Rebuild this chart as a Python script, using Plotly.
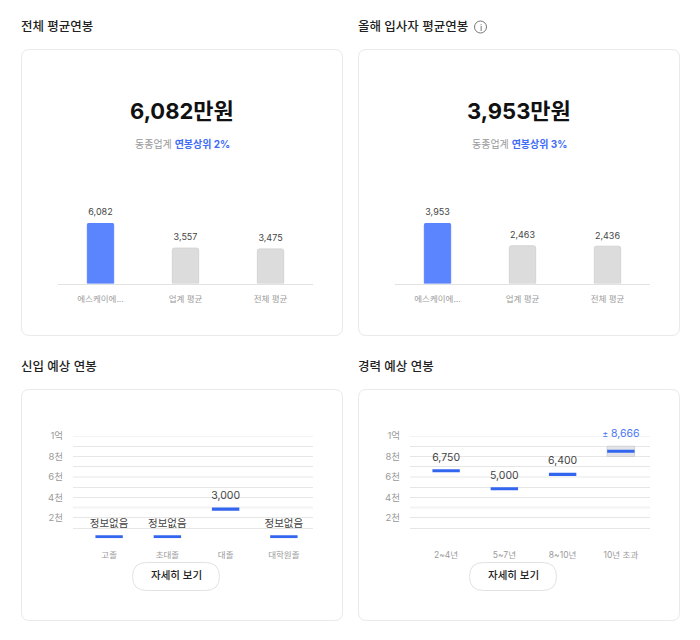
import plotly.graph_objects as go

FONT = "Inter, 'Noto Sans CJK KR', sans-serif"
W, H = 700, 640
BLUE, BAR_BLUE, GREY_TXT = "#4a76f5", "#5b84ff", "#9a9a9a"

# ---- data ----
avg_categories = ["에스케이에...", "업계 평균", "전체 평균"]
avg_total = [6082, 3557, 3475]
avg_new = [3953, 2463, 2436]
new_categories = ["고졸", "초대졸", "대졸", "대학원졸"]
new_tops = [300, 300, 3000, 300]
new_labels = ["정보없음", "정보없음", "3,000", "정보없음"]
exp_categories = ["2~4년", "5~7년", "8~10년", "10년 초과"]
exp_tops = [6750, 5000, 6400, 8666]
exp_labels = ["6,750", "5,000", "6,400", "<span style='font-size:9px'>±</span> 8,666"]
exp_band_low = [None, None, None, 8000]
exp_band_high = [None, None, None, 9000]
y_tick_vals = [2000, 4000, 6000, 8000, 10000]
y_tick_text = ["2천", "4천", "6천", "8천", "1억"]
thin_grid = [0, 1000, 2000, 4000, 5000, 7000, 8000, 9000]
soft_grid = [3000, 6000, 10000]
BAND = 300


def px(x):
    return x / W


def py(y):
    return 1 - y / H


fig = go.Figure()
shapes, annos = [], []


def rounded(x0, y0, x1, y1, r, color="#e9e9e9"):
    p = (f"M {px(x0+r)} {py(y0)} L {px(x1-r)} {py(y0)} Q {px(x1)} {py(y0)} {px(x1)} {py(y0+r)} "
         f"L {px(x1)} {py(y1-r)} Q {px(x1)} {py(y1)} {px(x1-r)} {py(y1)} L {px(x0+r)} {py(y1)} "
         f"Q {px(x0)} {py(y1)} {px(x0)} {py(y1-r)} L {px(x0)} {py(y0+r)} Q {px(x0)} {py(y0)} {px(x0+r)} {py(y0)} Z")
    shapes.append(dict(type="path", xref="paper", yref="paper", path=p,
                       line=dict(color=color, width=1), layer="below"))


def label(x, y, text, size, color, anchor="center", weight=None):
    annos.append(dict(xref="paper", yref="paper", x=px(x), y=py(y), text=text, showarrow=False,
                      xanchor=anchor, yanchor="middle", borderpad=0,
                      font=dict(size=size, color=color, family=FONT, weight=weight)))


def top_panel(idx, dx, cats, vals):
    xa, ya = f"x{idx}", f"y{idx}"
    fig.add_trace(go.Bar(x=cats, y=vals, xaxis=xa, yaxis=ya, width=0.31,
                         marker=dict(color=[BAR_BLUE, "#dcdcdc", "#dcdcdc"], cornerradius=2,
                                     line=dict(color=[BAR_BLUE, "#d4d4d4", "#d4d4d4"], width=1)),
                         showlegend=False, hoverinfo="skip"))
    fig.add_trace(go.Scatter(x=cats, y=vals, xaxis=xa, yaxis=ya, mode="markers+text",
                             text=[f"{v:,}" for v in vals], textposition="top center",
                             marker=dict(size=7, opacity=0),
                             textfont=dict(size=9, color="#444444", family=FONT),
                             cliponaxis=False, showlegend=False, hoverinfo="skip"))
    fig.update_layout({
        f"xaxis{idx}": dict(domain=[px(58 + dx), px(313 + dx)], anchor=ya, type="category", fixedrange=True,
                            range=[-0.5, 2.5], showgrid=False, zeroline=False, showline=True, linecolor="#e2e2e2",
                            linewidth=1, ticks="", ticklabelstandoff=7,
                            tickfont=dict(size=8.5, color=GREY_TXT, family=FONT)),
        f"yaxis{idx}": dict(domain=[py(283.5), py(223)], anchor=xa, range=[0, vals[0]], visible=False,
                            fixedrange=True),
    })


def bottom_panel(idx, dx, cats, tops, labels, colors, mark_sizes):
    xa, ya = f"x{idx}", f"y{idx}"
    fig.add_trace(go.Bar(x=cats, y=[BAND] * 4, base=[t - BAND for t in tops], xaxis=xa, yaxis=ya, width=0.47,
                         marker=dict(color="#3366ee", cornerradius=0, line=dict(width=0)),
                         showlegend=False, hoverinfo="skip"))
    fig.add_trace(go.Scatter(x=cats, y=tops, xaxis=xa, yaxis=ya, mode="markers+text", text=labels,
                             textposition="top center", marker=dict(size=mark_sizes, opacity=0),
                             textfont=dict(size=10.5, color=colors, family=FONT),
                             cliponaxis=False, showlegend=False, hoverinfo="skip"))
    fig.update_layout({
        f"xaxis{idx}": dict(domain=[px(73 + dx), px(313 + dx)], anchor=ya, type="category", fixedrange=True,
                            range=[-0.62, 3.5], showgrid=False, zeroline=False, showline=False, ticks="",
                            ticklabelstandoff=10, tickfont=dict(size=8.5, color=GREY_TXT, family=FONT)),
        f"yaxis{idx}": dict(domain=[py(538.3), py(436)], anchor=xa, range=[0, 10000], fixedrange=True,
                            tickvals=y_tick_vals, ticktext=y_tick_text, showgrid=False, zeroline=False,
                            ticks="", ticklabelstandoff=9, tickfont=dict(size=9.5, color=GREY_TXT, family=FONT),
                            minor=dict(tickvals=thin_grid, showgrid=True, gridcolor="#e6e6e6", gridwidth=1, ticks="")),
    })
    for v in soft_grid:
        shapes.append(dict(type="line", xref=f"{xa} domain", yref=ya, x0=0, x1=1, y0=v, y1=v,
                           line=dict(color="#f3f3f3", width=2), layer="below"))


# band behind the last experience bar
fig.add_trace(go.Bar(x=exp_categories, y=[None if l is None else h - l for l, h in zip(exp_band_low, exp_band_high)],
                     base=exp_band_low, xaxis="x4", yaxis="y4", width=0.47,
                     marker=dict(color="#e2e4e8", cornerradius=0, line=dict(color="#d0d2d6", width=1)),
                     showlegend=False, hoverinfo="skip"))

top_panel(1, 0, avg_categories, avg_total)
top_panel(2, 337, avg_categories, avg_new)
bottom_panel(3, 0, new_categories, new_tops, new_labels, ["#444444"] * 4, [7, 7, 8, 7])
bottom_panel(4, 337, exp_categories, exp_tops, exp_labels, ["#444444"] * 3 + [BLUE], [8, 8, 8, 14])

for x0, y0, x1, y1 in [(21.5, 49.5, 342.5, 335.5), (358.5, 49.5, 679.5, 335.5),
                       (21.5, 389.5, 342.5, 620.5), (358.5, 389.5, 679.5, 620.5)]:
    rounded(x0, y0, x1, y1, 8)
for x0 in (132.5, 469.5):
    rounded(x0, 562.5, x0 + 87, 590.5, 14, "#e2e2e2")
    label(x0 + 43.5, 575, "자세히 보기", 10.5, "#222222", weight=500)

label(20, 26.5, "전체 평균연봉", 12.5, "#222222", "left", 500)
label(357, 26.5, "올해 입사자 평균연봉", 12.5, "#222222", "left", 500)
label(20, 366.5, "신입 예상 연봉", 12.5, "#222222", "left", 500)
label(357, 366.5, "경력 예상 연봉", 12.5, "#222222", "left", 500)
label(182, 111, f"{avg_total[0]:,}만원", 22, "#111111", weight=700)
label(519, 111, f"{avg_new[0]:,}만원", 22, "#111111", weight=700)
for cx, pct in ((182, "2%"), (519, "3%")):
    label(cx, 144, f"<span style='color:#9a9a9a'>동종업계</span> <b>연봉상위 {pct}</b>", 10, "#3e6cf5")

shapes.append(dict(type="circle", xref="paper", yref="paper", x0=px(474.5), x1=px(486.5), y0=py(33), y1=py(21),
                   line=dict(color="#777777", width=1)))
label(480.5, 27, "i", 9, "#666666")

fig.update_layout(width=W, height=H, margin=dict(l=0, r=0, t=0, b=0, autoexpand=False),
                  paper_bgcolor="white", plot_bgcolor="white",
                  barmode="overlay", shapes=shapes, annotations=annos,
                  font=dict(family=FONT), showlegend=False)
fig.write_html("out.html", config=dict(displayModeBar=False),
               post_script="document.body.style.margin='0';")
